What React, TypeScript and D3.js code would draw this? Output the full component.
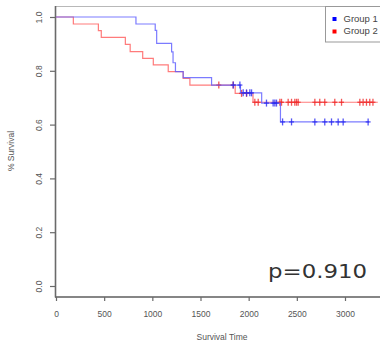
import React, { useEffect, useRef } from 'react';
import * as d3 from 'd3';

// Kaplan-Meier steps
const group1Times = [0, 830, 1030, 1045, 1200, 1215, 1240, 1320, 1615, 1915, 2135, 2330];
const group1Surv = [1, 0.974, 0.95, 0.902, 0.87, 0.83, 0.797, 0.775, 0.747, 0.718, 0.68, 0.61];
const group1End = 3250;
const group1Censor = [1840, 1909, 1943, 1978, 2012, 2030, 2185, 2254, 2272, 2289, 2352, 2445, 2687, 2790, 2860, 2929, 2981, 3240];

const group2Times = [0, 180, 440, 470, 720, 770, 900, 1010, 1165, 1320, 1390, 1860, 2045];
const group2Surv = [1, 0.974, 0.949, 0.924, 0.898, 0.871, 0.846, 0.822, 0.797, 0.772, 0.747, 0.716, 0.683];
const group2End = 3340;
const group2Censor = [1690, 1839, 1926, 1978, 2064, 2099, 2324, 2341, 2410, 2445, 2479, 2497, 2514, 2687, 2738, 2790, 2894, 2964, 3154, 3188, 3223, 3257, 3290];

const xTicks = [0, 500, 1000, 1500, 2000, 2500, 3000];
const yTicks = [0, 0.2, 0.4, 0.6, 0.8, 1.0];
const legendLabels = ['Group 1', 'Group 2'];
const pValueText = 'p=0.910';

const App: React.FC = () => {
  const svgRef = useRef<SVGSVGElement>(null);

  useEffect(() => {
    if (!svgRef.current) return;
    const svg = d3.select(svgRef.current);
    svg.selectAll('*').remove();

    const x = d3.scaleLinear().domain([0, 3000]).range([56, 345]);
    const y = d3.scaleLinear().domain([0, 1]).range([286, 17]);
    const font = '"Liberation Sans", Arial, sans-serif';
    const axisColor = '#6a6a6a';

    // plot box
    svg.append('rect')
      .attr('x', 55.5).attr('y', 6.5)
      .attr('width', 400).attr('height', 290.5)
      .attr('fill', 'none').attr('stroke', '#b8b8b8').attr('stroke-width', 1);
    svg.append('line')
      .attr('x1', 55.5).attr('x2', 55.5).attr('y1', 6).attr('y2', 297.5)
      .attr('stroke', axisColor).attr('stroke-width', 1.6);
    svg.append('line')
      .attr('x1', 55).attr('x2', 400).attr('y1', 297).attr('y2', 297)
      .attr('stroke', axisColor).attr('stroke-width', 1.6);

    // x axis
    const xAxis = svg.append('g')
      .attr('transform', 'translate(0,297)')
      .call(d3.axisBottom(x).tickValues(xTicks).tickSize(4).tickSizeOuter(0).tickPadding(10).tickFormat(d3.format('d')));
    xAxis.select('.domain').remove();
    xAxis.selectAll('line').attr('stroke', axisColor).attr('stroke-width', 1.2);
    xAxis.selectAll('text')
      .attr('fill', '#555').style('font-family', font).style('font-size', '8.5px');

    // y axis
    const yAxis = svg.append('g')
      .attr('transform', 'translate(55,0)')
      .call(d3.axisLeft(y).tickValues(yTicks).tickSize(5).tickSizeOuter(0).tickFormat(d3.format('.1f')));
    yAxis.select('.domain').remove();
    yAxis.selectAll('line').attr('stroke', axisColor).attr('stroke-width', 1.2);
    yAxis.selectAll('text')
      .attr('fill', '#555').style('font-family', font).style('font-size', '8.5px')
      .attr('text-anchor', 'middle').attr('dy', null).attr('x', null)
      .attr('transform', 'translate(-15,0) rotate(-90)')
      .attr('dominant-baseline', 'middle');

    // axis titles
    svg.append('text')
      .attr('x', 222).attr('y', 340)
      .attr('text-anchor', 'middle').attr('fill', '#555')
      .style('font-family', font).style('font-size', '8.5px')
      .text('Survival Time');
    svg.append('text')
      .attr('transform', 'translate(14,151) rotate(-90)')
      .attr('text-anchor', 'middle').attr('fill', '#555')
      .style('font-family', font).style('font-size', '8.5px')
      .text('% Survival');

    const line = d3.line<[number, number]>()
      .x(d => x(d[0]))
      .y(d => y(d[1]))
      .curve(d3.curveStepAfter);

    const groups = [
      { times: group1Times, surv: group1Surv, end: group1End, censor: group1Censor, line: '#5a5aff', mark: '#2a2af0' },
      { times: group2Times, surv: group2Surv, end: group2End, censor: group2Censor, line: '#ff5a5a', mark: '#f02a2a' },
    ];

    // red drawn first, blue on top
    [groups[1], groups[0]].forEach(g => {
      const pts: [number, number][] = g.times.map((t, i) => [t, g.surv[i]]);
      pts.push([g.end, g.surv[g.surv.length - 1]]);
      svg.append('path')
        .datum(pts)
        .attr('fill', 'none')
        .attr('stroke', g.line)
        .attr('stroke-opacity', 0.8)
        .attr('stroke-width', 1.2)
        .attr('d', line);

      const survAt = (t: number) => {
        let s = 1;
        g.times.forEach((tt, i) => { if (tt <= t) s = g.surv[i]; });
        return s;
      };
      const marks = svg.append('g');
      g.censor.forEach(t => {
        const cx = x(t);
        const cy = y(survAt(t));
        marks.append('line')
          .attr('x1', cx).attr('x2', cx).attr('y1', cy - 3.5).attr('y2', cy + 3.5)
          .attr('stroke', g.mark).attr('stroke-opacity', 0.8).attr('stroke-width', 1.3);
        marks.append('line')
          .attr('x1', cx - 2.5).attr('x2', cx + 2.5).attr('y1', cy).attr('y2', cy)
          .attr('stroke', g.mark).attr('stroke-opacity', 0.8).attr('stroke-width', 1.3);
      });
    });

    // legend
    const legend = svg.append('g');
    legend.append('rect')
      .attr('x', 325.5).attr('y', 6.5).attr('width', 80).attr('height', 35.5)
      .attr('fill', 'white').attr('stroke', '#999').attr('stroke-width', 1);
    legendLabels.forEach((label, i) => {
      const cy = 19 + i * 12.5;
      legend.append('rect')
        .attr('x', 332.5).attr('y', cy - 2).attr('width', 4).attr('height', 4)
        .attr('fill', i === 0 ? '#0000ff' : '#ff0000');
      legend.append('text')
        .attr('x', 343.5).attr('y', cy).attr('dominant-baseline', 'middle')
        .attr('fill', '#444').style('font-family', font).style('font-size', '9.5px')
        .text(label);
    });

    // p-value
    svg.append('text')
      .attr('x', 268).attr('y', 278)
      .attr('fill', '#333')
      .attr('textLength', 99).attr('lengthAdjust', 'spacingAndGlyphs')
      .style('font-family', '"DejaVu Sans", sans-serif').style('font-size', '19px')
      .text(pValueText);
  }, []);

  return (
    <svg
      ref={svgRef}
      width={380}
      height={350}
      style={{ position: 'absolute', left: 0, top: 0, background: 'white' }}
    />
  );
};

export default App;
